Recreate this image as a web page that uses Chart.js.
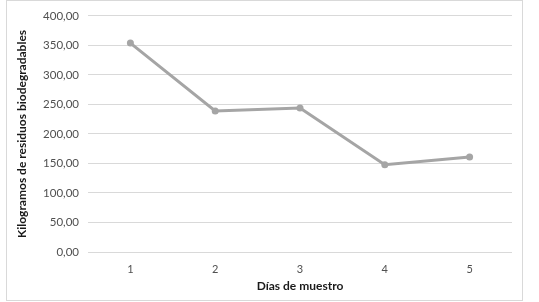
<!DOCTYPE html>
<html>
<head>
<meta charset="utf-8">
<script src="https://cdn.jsdelivr.net/npm/chart.js@4.4.1/dist/chart.umd.min.js"></script>
<style>
  html, body { margin: 0; padding: 0; background: #ffffff; }
  #wrap { position: absolute; left: 0; top: 0; width: 539px; height: 302px; }
</style>
</head>
<body>
<div id="wrap"><canvas id="chart" width="539" height="302"></canvas></div>
<script>
/* ================= DATA ================= */
const dias = ["1", "2", "3", "4", "5"];
const kilogramos = [354, 239, 244, 148, 161];
const yTicks = [0, 50, 100, 150, 200, 250, 300, 350, 400];

/* ================= STYLE ================= */
const FONT = "Lato, 'Open Sans', sans-serif";
const LINE_COLOR = "#a5a5a5";
const GRID_COLOR = "#d9d9d9";

const formatComma = (v) => v.toFixed(2).replace(".", ",");

/* frame round the chart, like the Excel chart area */
const framePlugin = {
  id: "frame",
  beforeDraw(chart) {
    const ctx = chart.ctx;
    ctx.save();
    ctx.strokeStyle = "#d9d9d9";
    ctx.lineWidth = 1;
    ctx.strokeRect(6.5, 0.5, 516, 300);
    ctx.restore();
  },
};

/* ================= CHART ================= */
new Chart(document.getElementById("chart"), {
  type: "line",
  data: {
    labels: dias,
    datasets: [
      {
        data: kilogramos,
        borderColor: LINE_COLOR,
        backgroundColor: LINE_COLOR,
        borderWidth: 3,
        pointRadius: 3.5,
        pointBackgroundColor: LINE_COLOR,
        pointBorderWidth: 0,
        tension: 0,
      },
    ],
  },
  options: {
    responsive: false,
    animation: false,
    layout: { padding: { top: 11, right: 27, bottom: 0, left: 0 } },
    plugins: {
      legend: { display: false },
      tooltip: { enabled: false },
    },
    scales: {
      x: {
        offset: true,
        grid: { display: false, drawTicks: false },
        border: { display: false },
        ticks: {
          padding: 11,
          color: "#505050",
          font: { family: FONT, size: 11 },
        },
        title: {
          display: true,
          text: "Días de muestro",
          color: "#1a1a1a",
          padding: { top: 3, bottom: 9 },
          font: { family: FONT, size: 12, weight: "bold" },
        },
        afterFit(scale) {
          scale.height = 50;
        },
      },
      y: {
        min: 0,
        max: 400,
        afterBuildTicks(scale) {
          scale.ticks = yTicks.map((v) => ({ value: v }));
        },
        grid: { color: GRID_COLOR, lineWidth: 1, drawTicks: false },
        border: { display: false },
        ticks: {
          padding: 9,
          color: "#505050",
          font: { family: FONT, size: 11.5 },
          callback: (v) => formatComma(v),
        },
        title: {
          display: true,
          text: "Kilogramos de residuos biodegradables",
          color: "#1a1a1a",
          padding: { top: 15, bottom: 0 },
          font: { family: FONT, size: 12, weight: "bold" },
        },
        afterFit(scale) {
          scale.width = 88;
        },
      },
    },
  },
  plugins: [framePlugin],
});
</script>
</body>
</html>
